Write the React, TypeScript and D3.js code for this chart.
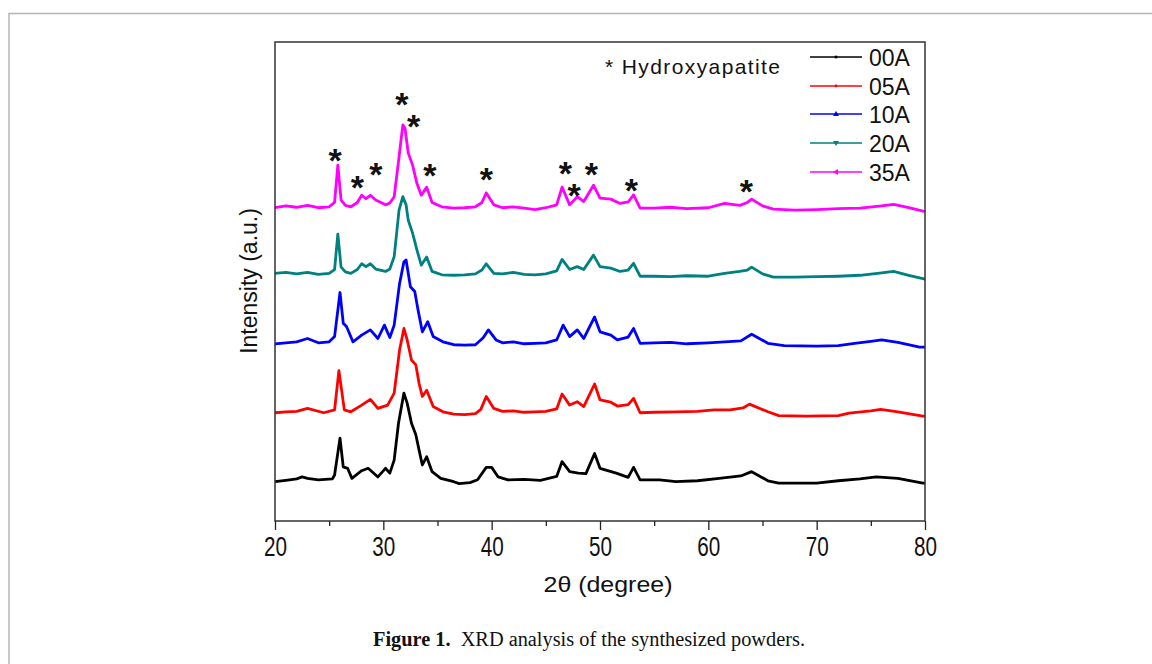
import React, { useEffect, useRef } from 'react';
import * as d3 from 'd3';

// XRD patterns: [2θ, intensity (a.u., stacked offsets)]
const s00A: [number, number][] = [[20,8.2],[21,8.5],[22,8.8],[22.5,9.2],[23,8.9],[24,8.6],[25.3,8.8],[25.5,9.6],[26,17.3],[26.3,11.3],[26.7,11],[27.1,8.9],[28,10.5],[28.6,11],[29.5,9.2],[30.2,11],[30.6,10],[31,12.7],[31.4,20.4],[31.9,26.7],[32.2,24.6],[32.6,20.4],[33,18],[33.3,14.8],[33.6,11.7],[34,13.4],[34.5,10.3],[35.3,8.9],[36.5,8.2],[37,7.8],[38,8],[38.7,8.6],[39.5,11.2],[40,11.2],[40.6,9.2],[41.5,8.6],[43,8.7],[44.5,8.5],[46,9.3],[46.5,12.4],[47.2,10.3],[48,10],[48.7,9.9],[49.5,14.1],[50,11],[51.5,10],[52.6,9.1],[53.1,11.2],[53.7,8.6],[55.5,8.6],[57,8.2],[59,8.4],[61,8.9],[63,9.4],[64,10.3],[65.5,8.4],[66.5,7.9],[70,7.9],[72,8.4],[74,8.8],[75.5,9.2],[77.5,8.9],[79.8,7.9],[80,7.9]];
const s05A: [number, number][] = [[20,22.6],[21,22.8],[22,22.9],[23,23.5],[24.5,22.6],[25.5,23.2],[25.9,31.4],[26.4,23.2],[27,22.8],[28,24.2],[28.8,25.4],[29.5,23.5],[30.4,24.2],[31,26.7],[31.5,35.7],[31.9,40.2],[32.2,37.8],[32.6,33.6],[33,32.6],[33.3,28.7],[33.6,26],[34,27.3],[34.6,23.9],[35.5,22.8],[36.5,22.3],[37.5,22.2],[38.5,22.4],[39,23.3],[39.5,26],[40.2,23.5],[41,22.9],[42,23],[43,22.7],[44,22.8],[45,22.9],[46,23.4],[46.5,26.5],[47.2,24.2],[47.9,24.9],[48.5,23.9],[49.5,28.6],[50,25.3],[51,24.8],[51.6,24],[52.6,24.3],[53.1,25.6],[53.7,22.6],[55,22.7],[57,22.8],[59,22.9],[60.5,23.2],[62,23.2],[63.2,23.6],[63.8,24.4],[65.5,22.8],[66.5,22],[69,21.9],[72,22],[73,22.5],[75,23],[75.9,23.3],[77.5,22.8],[79.8,21.9],[80,21.9]];
const s10A: [number, number][] = [[20,37],[21,37.2],[22,37.4],[23,38.1],[24,37.2],[25,37.4],[25.5,38.5],[26,47.7],[26.3,41.3],[26.6,40.6],[27.2,37.4],[28,38.8],[28.8,39.9],[29.5,38.1],[30.1,40.9],[30.6,38.3],[31,40.9],[31.5,49.6],[31.9,54.1],[32.1,54.5],[32.5,48.9],[32.9,47.9],[33.2,44.1],[33.6,39.5],[34.1,41.6],[34.6,38.5],[35.5,37.4],[36.5,36.8],[37.5,36.7],[38.5,36.8],[39.2,38.2],[39.7,39.9],[40.4,37.8],[41,37.2],[42,37.4],[43,37],[44,37.1],[45,37.2],[46,37.8],[46.6,40.9],[47.2,38.5],[47.9,39.9],[48.5,38.1],[49.5,42.6],[50,39.5],[51,38.8],[51.6,37.8],[52.6,38.4],[53.1,40.2],[53.7,37.1],[55,37.2],[56.5,37.3],[58,37],[60,37.2],[61.5,37.4],[63,37.6],[64,39],[65.5,37.1],[67,36.6],[70,36.5],[72,36.6],[73.5,37.1],[75,37.5],[76,37.8],[77.5,37.3],[79.5,36.3],[80,36.3]];
const s20A: [number, number][] = [[20,51.7],[21,51.9],[22,51.6],[23,51.9],[24,51.5],[25,51.7],[25.5,52.5],[25.8,59.9],[26.1,53],[26.5,52],[27,51.7],[27.6,52.5],[28,53.7],[28.4,53.1],[28.8,53.7],[29.3,52.6],[30.2,52.1],[30.6,52.6],[31,55.2],[31.45,64.9],[31.8,67.7],[32.1,66],[32.3,62.8],[32.7,60.1],[33.1,56.6],[33.5,53.4],[34,55.1],[34.5,52.1],[35.4,51.4],[36.5,51.3],[37.5,51.4],[38.5,51.6],[39.1,52.4],[39.5,53.7],[40.2,51.7],[41,51.6],[42,51.9],[43,51.5],[44,51.4],[45,51.6],[46,52.2],[46.5,54.6],[47.2,52.5],[47.9,53.1],[48.5,52.5],[49.4,55.5],[50,53.1],[51,52.8],[51.85,52.1],[52.6,52.4],[53.1,53.8],[53.7,51.1],[55,51.1],[56.5,51],[58,51.2],[60,51.1],[61.5,51.7],[62.9,52.1],[63.6,52.4],[64,53],[65,51.6],[66,50.9],[68,50.9],[70,51],[72,51.1],[74,51.3],[76,51.8],[77.1,52.1],[78.5,51.3],[80,50.5]];
const s35A: [number, number][] = [[20,65.4],[21,65.8],[22,65.5],[23,65.9],[24,65.4],[25,65.6],[25.5,66.5],[25.8,74.3],[26.1,67],[26.5,65.9],[27,65.6],[27.6,66.5],[28,68],[28.4,67.3],[28.8,68],[29.3,67],[30.2,66],[30.6,66.4],[31,67.7],[31.45,76],[31.8,82.7],[32,82],[32.3,76.8],[32.7,74.3],[33.1,70.5],[33.5,68],[34,69.7],[34.5,66.5],[35.4,65.6],[36.5,65.3],[37.5,65.4],[38.5,65.6],[39.1,66.5],[39.5,68.5],[40.2,66],[41,65.4],[42,65.6],[43,65.3],[44,65],[45,65.4],[46,66],[46.5,69.7],[47.2,66],[47.9,67.7],[48.5,66.7],[49.4,70.1],[50,67.4],[51,67.2],[51.85,66.3],[52.6,66.6],[53.1,68.1],[53.7,65.3],[55,65.3],[56.5,65.5],[58,65.2],[60,65.4],[61.5,66.3],[62.9,65.9],[63.6,66.5],[64,67.2],[65,65.8],[66,65.1],[68,64.9],[70,65],[72,65.2],[74,65.3],[76,65.8],[77.1,66.1],[78.5,65.4],[80,64.6]];

const seriesNames = ['00A', '05A', '10A', '20A', '35A'];
const seriesData = [s00A, s05A, s10A, s20A, s35A];
const seriesColors = ['#000000', '#ff0000', '#0000ff', '#008080', '#ff00ff'];

// hydroxyapatite peak marks
const starTheta = [25.54, 27.6, 29.3, 31.7, 32.8, 34.3, 39.5, 46.8, 47.6, 49.2, 52.9, 63.5];
const starLevel = [77.1, 71.3, 74.1, 88.7, 84.1, 73.8, 73.1, 74.3, 69.8, 74.1, 70.8, 70.5];

const majorTicks = [20, 30, 40, 50, 60, 70, 80];
const minorTicks = [25, 35, 45, 55, 65, 75];

const W = 1152, H = 664;
const left = 275, right = 925, top = 42, bottom = 521;

export default function App() {
  const axisRef = useRef<SVGGElement>(null);

  const x = d3.scaleLinear().domain([20, 80]).range([left, right]);
  const y = d3.scaleLinear().domain([0, 100]).range([bottom, top]);
  const path = d3.line<[number, number]>().x((d) => x(d[0])).y((d) => y(d[1]));

  useEffect(() => {
    const g = d3.select(axisRef.current);
    g.selectAll('*').remove();
    const major = g.append('g').call(d3.axisBottom(x).tickValues(majorTicks).tickSize(9).tickSizeOuter(0));
    major.select('.domain').remove();
    major.selectAll('line').attr('stroke', '#222').attr('stroke-width', 1.3);
    major.selectAll('text')
      .attr('font-family', 'Liberation Sans, Arial, sans-serif')
      .attr('font-size', 27)
      .attr('fill', '#111')
      .attr('y', 35)
      .attr('dy', 0)
      .attr('textLength', 23)
      .attr('lengthAdjust', 'spacingAndGlyphs');
    const minor = g.append('g').call(d3.axisBottom(x).tickValues(minorTicks).tickSize(5).tickFormat(() => ''));
    minor.select('.domain').remove();
    minor.selectAll('line').attr('stroke', '#222').attr('stroke-width', 1.3);
  }, []);

  const legendY = [57, 86, 114, 143, 172];
  const marker = (i: number, cx: number, cy: number, c: string) => {
    const s = 2.6;
    if (i === 0) return <rect x={cx - s / 2} y={cy - s / 2} width={s} height={s} fill={c} />;
    if (i === 1) return <circle cx={cx} cy={cy} r={1.4} fill={c} />;
    if (i === 2) return <path d={`M${cx},${cy - 3}L${cx + 3},${cy + 2}L${cx - 3},${cy + 2}Z`} fill={c} />;
    if (i === 3) return <path d={`M${cx},${cy + 3}L${cx + 3},${cy - 2}L${cx - 3},${cy - 2}Z`} fill={c} />;
    return <path d={`M${cx - 3},${cy}L${cx + 2},${cy - 3}L${cx + 2},${cy + 3}Z`} fill={c} />;
  };

  return (
    <svg width={W} height={H} style={{ position: 'absolute', left: 0, top: 0, background: '#fff' }}
      fontFamily="Liberation Sans, Arial, sans-serif">
      <path d={`M9,${H}V13.5H${W}`} fill="none" stroke="#b5b5b5" strokeWidth={1.5} />

      {seriesData.map((d, i) => (
        <path key={seriesNames[i]} d={path(d) || ''} fill="none" stroke={seriesColors[i]}
          strokeWidth={2.8} strokeLinejoin="round" />
      ))}

      <rect x={left} y={top} width={right - left} height={bottom - top} fill="none" stroke="#333" strokeWidth={1.5} />
      <g ref={axisRef} transform={`translate(0,${bottom})`} />

      {starTheta.map((t, i) => (
        <text key={i} x={x(t)} y={y(starLevel[i]) + 20} fontSize={34} fontWeight="bold" textAnchor="middle" fill="#111">*</text>
      ))}

      <text x={605} y={74} fontSize={21} fill="#111" textLength={175} lengthAdjust="spacing">* Hydroxyapatite</text>

      {seriesNames.map((n, i) => (
        <g key={n}>
          <line x1={810} x2={862} y1={legendY[i]} y2={legendY[i]} stroke={seriesColors[i]} strokeWidth={1.5} />
          {marker(i, 836, legendY[i], seriesColors[i])}
          <text x={869} y={legendY[i] + 8.5} fontSize={23} fill="#111">{n}</text>
        </g>
      ))}

      <text x={608} y={592} fontSize={22} textAnchor="middle" fill="#111" textLength={129} lengthAdjust="spacingAndGlyphs">2θ (degree)</text>
      <text transform="translate(257,281) rotate(-90)" fontSize={23} textAnchor="middle" fill="#111">Intensity (a.u.)</text>

      <text x={373} y={646} fontSize={20} fill="#111" fontFamily="Liberation Serif, Times New Roman, serif"
        textLength={432} lengthAdjust="spacingAndGlyphs">
        <tspan fontWeight="bold">Figure 1.</tspan>
        <tspan>{'\u00a0\u00a0XRD analysis of the synthesized powders.'}</tspan>
      </text>
    </svg>
  );
}
